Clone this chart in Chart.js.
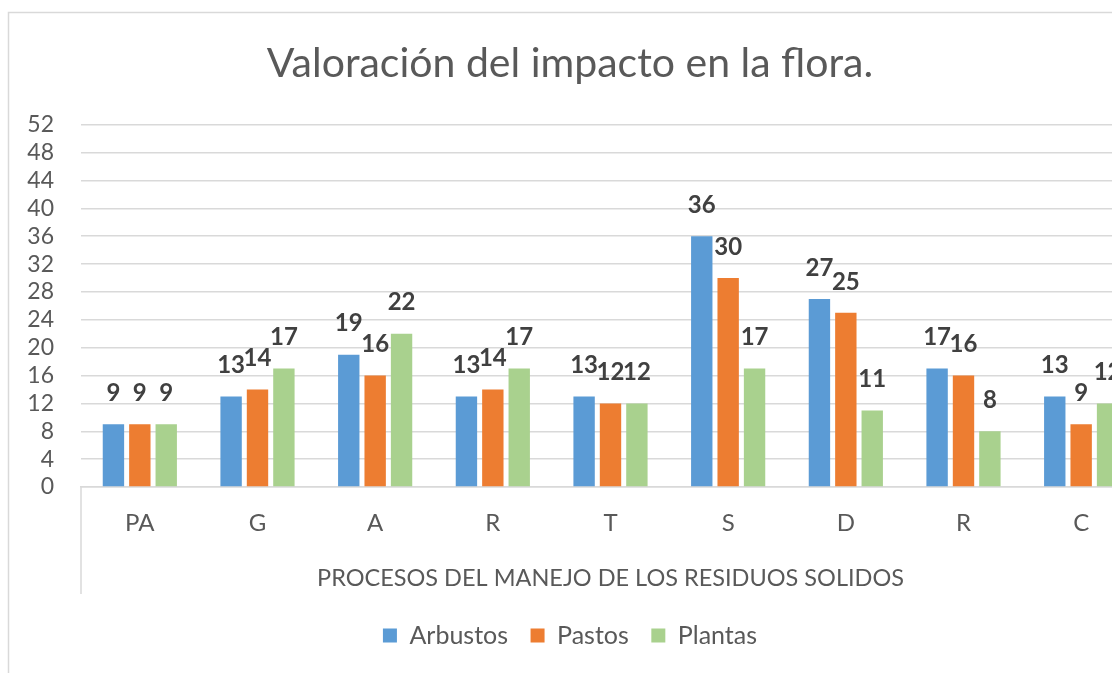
<!DOCTYPE html>
<html>
<head>
<meta charset="utf-8">
<script src="https://cdn.jsdelivr.net/npm/chart.js@4.4.1/dist/chart.umd.min.js"></script>
<style>
html,body{margin:0;padding:0;overflow:hidden;background:#fff;width:1112px;height:673px}
canvas{display:block}
</style>
</head>
<body>
<canvas id="c" width="1140" height="673" style="width:1140px;height:673px"></canvas>
<script>
// ---- data ----
const categories = ['PA', 'G', 'A', 'R', 'T', 'S', 'D', 'R', 'C'];
const arbustos = [9, 13, 19, 13, 13, 36, 27, 17, 13];
const pastos   = [9, 14, 16, 14, 12, 30, 25, 16, 9];
const plantas  = [9, 17, 22, 17, 12, 17, 11, 8, 12];
const seriesNames = ['Arbustos', 'Pastos', 'Plantas'];
const yMin = 0, yMax = 52, yStep = 4;
const chartTitle = 'Valoración del impacto en la flora.';
const axisTitle = 'PROCESOS DEL MANEJO DE LOS RESIDUOS SOLIDOS';

// ---- styles ----
const FONT = 'Lato, "Open Sans", sans-serif';
const TEXT = '#595959';
const GRID = '#d9d9d9';
const colors = ['#5b9bd5', '#ed7d31', '#a9d18e'];

const framePlugin = {
  id: 'frame',
  beforeDraw(chart) {
    const ctx = chart.ctx;
    const a = chart.chartArea;
    ctx.save();
    ctx.strokeStyle = GRID;
    ctx.lineWidth = 1.5;
    ctx.beginPath();
    ctx.moveTo(8.5, chart.height);
    ctx.lineTo(8.5, 12.5);
    ctx.lineTo(chart.width, 12.5);
    ctx.stroke();
    ctx.beginPath();
    ctx.moveTo(a.left, a.bottom);
    ctx.lineTo(a.left, a.bottom + 107);
    ctx.moveTo(a.right, a.bottom);
    ctx.lineTo(a.right, a.bottom + 107);
    ctx.stroke();
    ctx.restore();
  }
};

const valueLabels = {
  id: 'valueLabels',
  afterDatasetsDraw(chart) {
    const ctx = chart.ctx;
    ctx.save();
    ctx.font = 'bold 24px ' + FONT;
    ctx.fillStyle = '#404040';
    ctx.textAlign = 'center';
    ctx.textBaseline = 'middle';
    chart.data.datasets.forEach((ds, i) => {
      const meta = chart.getDatasetMeta(i);
      meta.data.forEach((bar, j) => {
        ctx.fillText(String(ds.data[j]), bar.x, bar.y - 31);
      });
    });
    ctx.restore();
  }
};

const seriesData = [arbustos, pastos, plantas];

new Chart(document.getElementById('c'), {
  type: 'bar',
  data: {
    labels: categories,
    datasets: seriesNames.map((name, i) => ({
      label: name,
      data: seriesData[i],
      backgroundColor: colors[i],
      borderWidth: 0,
      categoryPercentage: 0.673,
      barPercentage: 0.81
    }))
  },
  options: {
    responsive: false,
    animation: false,
    layout: { padding: { left: 0, right: 0, top: 0, bottom: 15 } },
    plugins: {
      title: {
        display: true,
        text: chartTitle,
        color: TEXT,
        font: { family: FONT, size: 41, weight: 'normal' },
        padding: { top: 39, bottom: 36.6 }
      },
      legend: {
        position: 'bottom',
        labels: {
          color: TEXT,
          font: { family: FONT, size: 25 },
          boxWidth: 14,
          boxHeight: 14,
          padding: 22.5
        }
      },
      tooltip: { enabled: false }
    },
    scales: {
      x: {
        grid: { display: false, drawTicks: false },
        border: { display: true, color: GRID, width: 1.5 },
        ticks: { color: TEXT, font: { family: FONT, size: 24 }, padding: 22 },
        title: {
          display: true,
          text: axisTitle,
          color: TEXT,
          font: { family: FONT, size: 23.5 },
          padding: { top: 10, bottom: 8 }
        },
        afterFit(s) { s.height = 113.5; }
      },
      y: {
        min: yMin,
        max: yMax,
        ticks: { stepSize: yStep, autoSkip: false, color: TEXT, font: { family: FONT, size: 23 }, padding: 27 },
        grid: { color: GRID, lineWidth: 1.5, drawTicks: false },
        border: { display: false },
        afterFit(s) { s.width = 81; }
      }
    }
  },
  plugins: [framePlugin, valueLabels]
});
</script>
</body>
</html>
